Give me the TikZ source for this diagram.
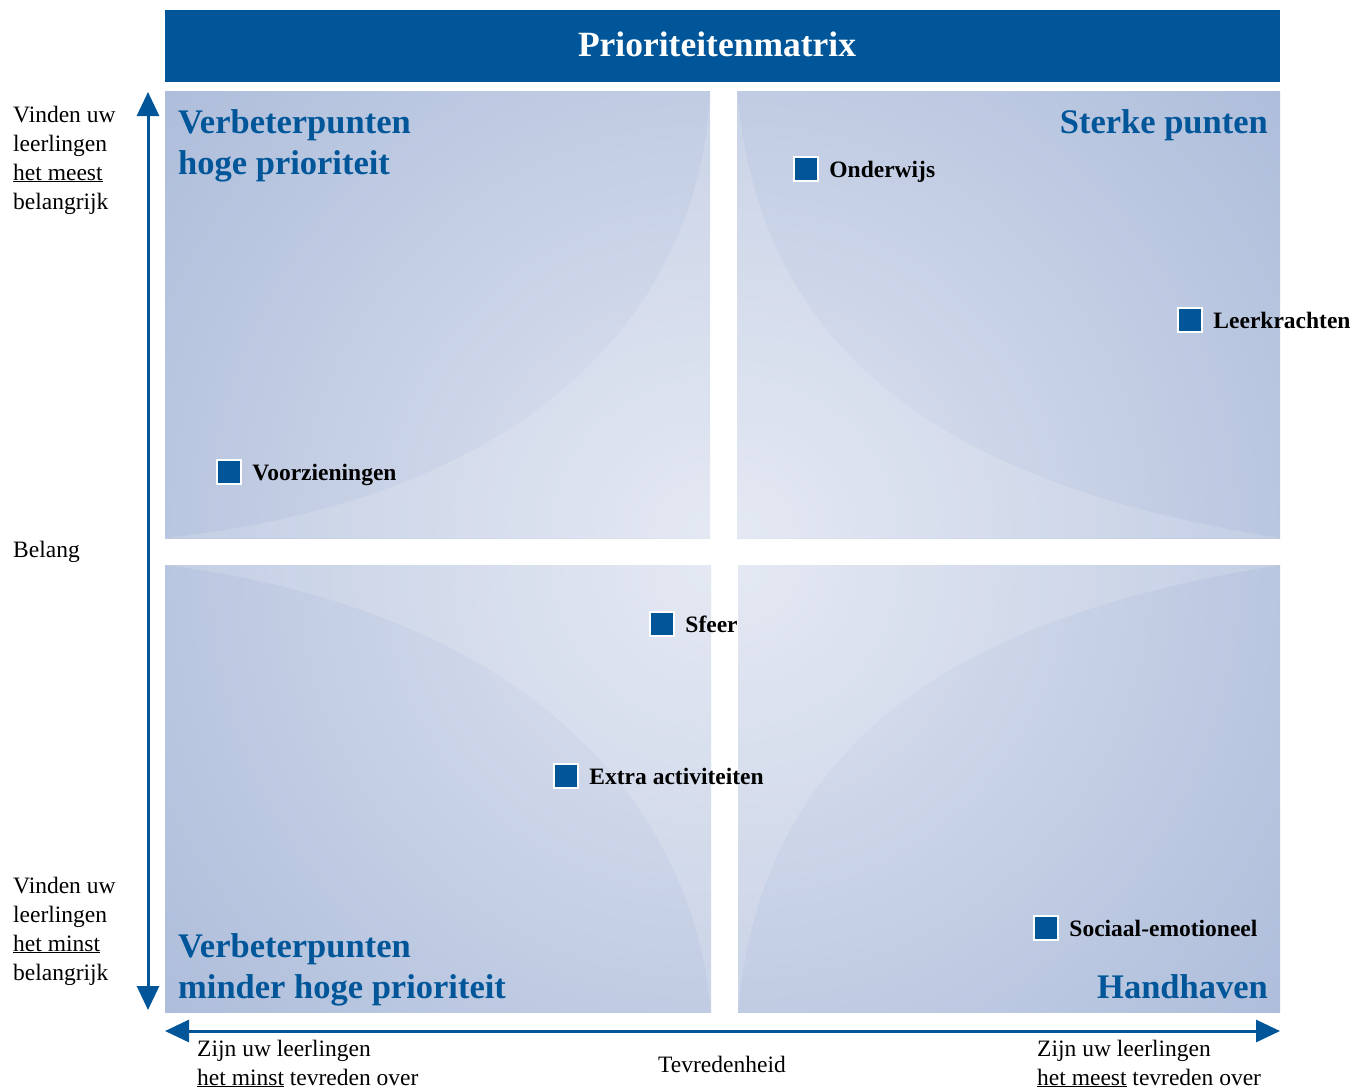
\documentclass[tikz,border=0pt]{standalone}
\usepackage{fontspec}
\setmainfont{Liberation Serif}
\usetikzlibrary{arrows.meta}
\definecolor{matblue}{RGB}{0,86,152}
\definecolor{qdark}{RGB}{170,186,217}
\definecolor{qlight}{RGB}{224,229,241}

\begin{document}
\begin{tikzpicture}[x=1pt, y=-1pt,
		item/.style={draw=white, line width=2.5pt, fill=matblue, minimum size=24pt, inner sep=0pt},
		itemtext/.style={font=\fontsize{23.5}{28}\selectfont\bfseries, inner sep=0pt, anchor=base west},
		quadtitle/.style={font=\fontsize{34.5}{41}\selectfont\bfseries, text=matblue, inner sep=0pt},
		side/.style={font=\fontsize{23.5}{29}\selectfont, inner sep=0pt, anchor=base west},
		axisline/.style={matblue, line width=3pt, {Triangle[length=24pt, width=22pt]}-{Triangle[length=24pt, width=22pt]}}]
		\useasboundingbox (0,0) rectangle (1367,1088);

		\node[fill=matblue, minimum width=1115pt, minimum height=72pt, inner sep=0pt] (header) at (722.5,46) {};
		\node[font=\fontsize{35.5}{41}\selectfont\bfseries, text=white, inner sep=0pt, anchor=base] (headtitle) at (717,56) {Prioriteitenmatrix};

		\begin{scope}
			\clip (165,91) rectangle (710,538);
			\shade[inner color=qlight, outer color=qdark] (710,538) circle (760);
			\fill[white, opacity=0.15] (165,538) .. controls (520,500) and (700,320) .. (710,91) -- (710,538) -- cycle;
		\end{scope}
		\begin{scope}
			\clip (737,91) rectangle (1280,538);
			\shade[inner color=qlight, outer color=qdark] (737,538) circle (760);
			\fill[white, opacity=0.15] (737,91) .. controls (759,343) and (929,483) .. (1280,538) -- (737,538) -- cycle;
		\end{scope}
		\begin{scope}
			\clip (165,565) rectangle (711,1012);
			\shade[inner color=qlight, outer color=qdark] (711,565) circle (760);
			\fill[white, opacity=0.15] (165,565) .. controls (501,607) and (691,782) .. (711,1012) -- (711,565) -- cycle;
		\end{scope}
		\begin{scope}
			\clip (738,565) rectangle (1280,1012);
			\shade[inner color=qlight, outer color=qdark] (738,565) circle (760);
			\fill[white, opacity=0.15] (738,1012) .. controls (760,760) and (930,620) .. (1280,565) -- (738,565) -- cycle;
		\end{scope}

		\node[quadtitle, anchor=base west] (prio-high-1) at (178,133) {Verbeterpunten};
		\node[quadtitle, anchor=base west] (prio-high-2) at (178,174) {hoge prioriteit};
		\node[quadtitle, anchor=base east] (strong) at (1268,133) {Sterke punten};
		\node[quadtitle, anchor=base west] (prio-low-1) at (178,957) {Verbeterpunten};
		\node[quadtitle, anchor=base west] (prio-low-2) at (178,998) {minder hoge prioriteit};
		\node[quadtitle, anchor=base east] (keep) at (1268,998) {Handhaven};

		\foreach \px/\py/\pname/\ptext in {806/169/onderwijs/Onderwijs, 1190/320/leerkrachten/Leerkrachten, 229/472/voorzieningen/Voorzieningen, 662/624/sfeer/Sfeer, 566/776/extra/Extra activiteiten, 1046/928/sociaal/Sociaal-emotioneel} {
			\node[item] (\pname) at (\px,\py) {};
			\node[itemtext] (\pname-text) at ([xshift=10pt, yshift=-8pt]\pname.east) {\ptext};
		}

		\foreach[count=\j] \lj in {Vinden uw, leerlingen, \underline{het meest}, belangrijk} {
			\node[side] (imp-high-\j) at (13,93+29*\j) {\lj};
		}
		\foreach[count=\j] \lj in {Vinden uw, leerlingen, \underline{het minst}, belangrijk} {
			\node[side] (imp-low-\j) at (13,864+29*\j) {\lj};
		}
		\node[side] (belang) at (13,557) {Belang};

		\node[side] (sat-low-1) at (197,1056) {Zijn uw leerlingen};
		\node[side] (sat-low-2) at (197,1085) {\underline{het minst} tevreden over};
		\node[side] (sat-high-1) at (1037,1056) {Zijn uw leerlingen};
		\node[side] (sat-high-2) at (1037,1085) {\underline{het meest} tevreden over};
		\node[side, anchor=base] (tevreden) at (722,1072) {Tevredenheid};

		\coordinate (ytop) at (148,92);
		\coordinate (ybot) at (148,1010);
		\coordinate (xleft) at (165,1031);
		\coordinate (xright) at (1280,1031);
		\draw[axisline] (ybot) -- (ytop);
		\draw[axisline] (xleft) -- (xright);
	\end{tikzpicture}
\end{document}
